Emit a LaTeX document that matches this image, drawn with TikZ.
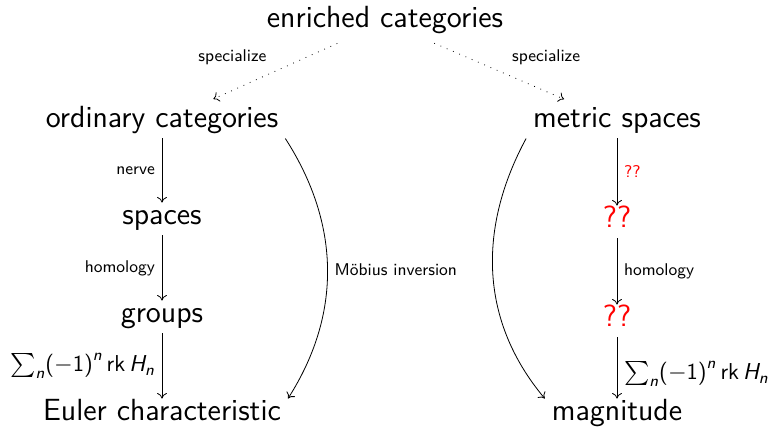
\documentclass[tikz,border=0pt]{standalone}
\usepackage{amsmath}
\usetikzlibrary{arrows.meta}
\renewcommand{\familydefault}{\sfdefault}
\newcommand{\vsf}[1]{\text{\itshape #1}}
\newcommand{\eulersum}{$\sum_{\vsf{n}}\mathopen{\text{(}}{-}\text{1}\mathclose{\text{)}}^{\vsf{n}}\,\text{rk}\,\vsf{H}_{\vsf{n}}$}
\tikzset{
  obj/.style={font=\fontsize{15.3}{18}\selectfont, anchor=base, text height=0.72em, text depth=0.22em},
  unk/.style={obj, text=red},
  lbl/.style={font=\fontsize{8.5}{10}\selectfont},
  sumlbl/.style={font=\fontsize{11.5}{13}\selectfont},
  arr/.style={-{To[length=2.8pt, width=5pt]}},
  spec/.style={arr, dash pattern=on 0.4pt off 3pt, shorten >=8pt, shorten <=6pt},
}

\begin{document}
\begin{tikzpicture}[x=0.5pt,y=-0.5pt]
		%%%%% START %%%%%
		\useasboundingbox (0,0) rectangle (771,428);
		
		\node[obj] (enr) at (385,27) {enriched categories};
		\node[obj] (ord) at (162,127) {ordinary categories};
		\node[obj] (met) at (617,127) {metric spaces};
		\node[obj] (spa) at (162,224) {spaces};
		\node[unk] (unkA) at (617,227) {??};
		\node[obj] (grp) at (162,322) {groups};
		\node[unk] (unkB) at (617,326) {??};
		\node[obj] (eul) at (162,420) {Euler characteristic};
		\node[obj] (mag) at (617,420) {magnitude};
		
		\draw[spec] (enr) -- node[lbl, midway, above left] {specialize} (ord);
		\draw[spec] (enr) -- node[lbl, midway, above right, xshift=2pt] {specialize} (met);
		
		\draw[arr] (ord) -- node[lbl, left] {nerve} (spa);
		\draw[arr] (spa) -- node[lbl, left] {homology} (grp);
		\draw[arr] (grp) -- node[sumlbl, left] {\eulersum} (eul);
		
		\draw[arr] (met) -- node[lbl, right, text=red] {??} (unkA);
		\draw[arr] (unkA) -- node[lbl, right] {homology} (unkB);
		\draw[arr] (unkB) -- node[sumlbl, right, yshift=-3pt] {\eulersum} (mag);
		
		\draw[arr] (ord.south east) .. controls +(56,87) and +(53,-83) .. node[lbl, midway, right] {M\"obius inversion} (eul.north east);
		\draw[arr] (met.south west) .. controls +(-47,87) and +(-67,-80) .. (mag.north west);
		
		%%%%% END %%%%%
\end{tikzpicture}
\end{document}
